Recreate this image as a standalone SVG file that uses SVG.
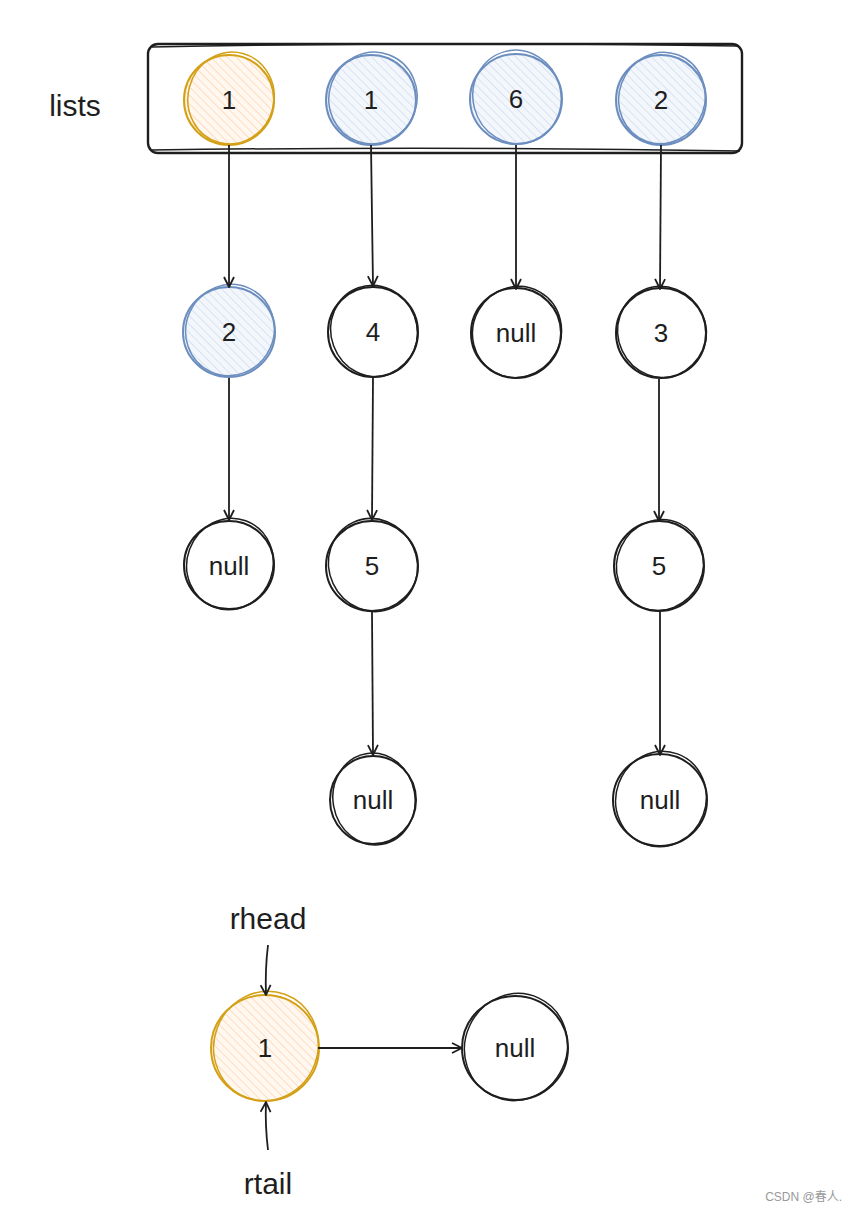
<svg xmlns="http://www.w3.org/2000/svg" width="850" height="1217" viewBox="0 0 850 1217">
<defs>
<pattern id="hatchO" patternUnits="userSpaceOnUse" width="6" height="6" patternTransform="rotate(-45)">
<rect width="6" height="6" fill="#fff8f0"/>
<line x1="0" y1="0" x2="0" y2="6" stroke="#ffc9a0" stroke-width="1.2"/>
</pattern>
<pattern id="hatchB" patternUnits="userSpaceOnUse" width="6" height="6" patternTransform="rotate(-45)">
<rect width="6" height="6" fill="#f3f7fc"/>
<line x1="0" y1="0" x2="0" y2="6" stroke="#c5d6ee" stroke-width="1.2"/>
</pattern>
<marker id="ah" viewBox="0 0 12 12" refX="11" refY="6" markerWidth="12" markerHeight="12" markerUnits="userSpaceOnUse" orient="auto">
<path d="M1,1 L11,6 L1,11" fill="none" stroke="#1e1e1e" stroke-width="1.8" stroke-linejoin="round"/>
</marker>
</defs>
<style>
.lbl{font-family:"Liberation Sans","DejaVu Sans",sans-serif;font-size:26px;fill:#1e1e1e;text-anchor:middle;dominant-baseline:central}
.big{font-size:30px}
.o{fill:url(#hatchO);stroke:#d4a017;stroke-width:2}
.o2{fill:none;stroke:#d4a017;stroke-width:1.5}
.b{fill:url(#hatchB);stroke:#6c8ebf;stroke-width:2}
.b2{fill:none;stroke:#6c8ebf;stroke-width:1.5}
.k{fill:#fff;stroke:#1e1e1e;stroke-width:2}
.k2{fill:none;stroke:#1e1e1e;stroke-width:1.5}
.c{fill:none;stroke:#1e1e1e;stroke-width:1.8}
</style>
<rect width="850" height="1217" fill="#fff"/>
<g id="lists-box">
<rect x="148" y="44" width="594" height="109" rx="10" fill="none" stroke="#1e1e1e" stroke-width="2.4"/>
<path d="M152,47 Q450,41 738,46" class="k2"/>
<path d="M151,150 Q450,146 740,151" class="k2"/>
</g>
<text id="lists-label" class="lbl big" x="75" y="105">lists</text>
<g id="n-top1">
<ellipse cx="229" cy="100" rx="45" ry="45" class="o"/>
<ellipse cx="231" cy="98" rx="43" ry="46" class="o2" transform="rotate(15 231 98)"/>
<text class="lbl" x="229" y="100">1</text>
</g>
<g id="n-top2">
<ellipse cx="371" cy="100" rx="45" ry="45" class="b"/>
<ellipse cx="373" cy="98" rx="44" ry="46" class="b2" transform="rotate(20 373 98)"/>
<text class="lbl" x="371" y="100">1</text>
</g>
<g id="n-top3">
<ellipse cx="516" cy="99" rx="46" ry="45" class="b"/>
<ellipse cx="517" cy="97" rx="44" ry="47" class="b2" transform="rotate(-15 517 97)"/>
<text class="lbl" x="516" y="99">6</text>
</g>
<g id="n-top4">
<ellipse cx="661" cy="100" rx="45" ry="45" class="b"/>
<ellipse cx="662" cy="98" rx="43" ry="46" class="b2" transform="rotate(20 662 98)"/>
<text class="lbl" x="661" y="100">2</text>
</g>
<g id="n-2">
<ellipse cx="229" cy="332" rx="46" ry="45" class="b"/>
<ellipse cx="230" cy="330" rx="44" ry="46" class="b2" transform="rotate(25 230 330)"/>
<text class="lbl" x="229" y="332">2</text>
</g>
<g id="n-4">
<ellipse cx="373" cy="332" rx="45" ry="45" class="k"/>
<ellipse cx="374" cy="331" rx="43" ry="46" class="k2" transform="rotate(-20 374 331)"/>
<text class="lbl" x="373" y="332">4</text>
</g>
<g id="n-null-a">
<ellipse cx="516" cy="333" rx="45" ry="45" class="k"/>
<ellipse cx="517" cy="332" rx="44" ry="46" class="k2" transform="rotate(30 517 332)"/>
<text class="lbl" x="516" y="333">null</text>
</g>
<g id="n-3">
<ellipse cx="661" cy="333" rx="45" ry="45" class="k"/>
<ellipse cx="662" cy="332" rx="44" ry="46" class="k2" transform="rotate(-25 662 332)"/>
<text class="lbl" x="661" y="333">3</text>
</g>
<g id="n-null-b">
<ellipse cx="229" cy="565" rx="45" ry="44" class="k"/>
<ellipse cx="230" cy="564" rx="43" ry="46" class="k2" transform="rotate(20 230 564)"/>
<text class="lbl" x="229" y="566">null</text>
</g>
<g id="n-5a">
<ellipse cx="372" cy="566" rx="46" ry="45" class="k"/>
<ellipse cx="373" cy="565" rx="44" ry="47" class="k2" transform="rotate(-25 373 565)"/>
<text class="lbl" x="372" y="566">5</text>
</g>
<g id="n-5b">
<ellipse cx="659" cy="566" rx="45" ry="45" class="k"/>
<ellipse cx="660" cy="565" rx="43" ry="46" class="k2" transform="rotate(25 660 565)"/>
<text class="lbl" x="659" y="566">5</text>
</g>
<g id="n-null-c">
<ellipse cx="373" cy="800" rx="43" ry="44" class="k"/>
<ellipse cx="374" cy="799" rx="41" ry="46" class="k2" transform="rotate(-10 374 799)"/>
<text class="lbl" x="373" y="800">null</text>
</g>
<g id="n-null-d">
<ellipse cx="660" cy="800" rx="47" ry="46" class="k"/>
<ellipse cx="661" cy="799" rx="45" ry="48" class="k2" transform="rotate(20 661 799)"/>
<text class="lbl" x="660" y="800">null</text>
</g>
<g id="n-rhead">
<ellipse cx="265" cy="1048" rx="54" ry="53" class="o"/>
<ellipse cx="266" cy="1046" rx="52" ry="55" class="o2" transform="rotate(20 266 1046)"/>
<text class="lbl" x="265" y="1048">1</text>
</g>
<g id="n-null-e">
<ellipse cx="515" cy="1048" rx="53" ry="52" class="k"/>
<ellipse cx="516" cy="1047" rx="51" ry="54" class="k2" transform="rotate(25 516 1047)"/>
<text class="lbl" x="515" y="1048">null</text>
</g>
<text id="rhead-label" class="lbl big" x="268" y="918">rhead</text>
<text id="rtail-label" class="lbl big" x="268" y="1183">rtail</text>
<g id="connectors">
<path class="c" d="M229,145 L229,287" marker-end="url(#ah)"/>
<path class="c" d="M371,145 L373,286" marker-end="url(#ah)"/>
<path class="c" d="M516,145 L516,289" marker-end="url(#ah)"/>
<path class="c" d="M661,145 L660,289" marker-end="url(#ah)"/>
<path class="c" d="M229,378 L229,520" marker-end="url(#ah)"/>
<path class="c" d="M373,378 L372,520" marker-end="url(#ah)"/>
<path class="c" d="M659,379 L659,521" marker-end="url(#ah)"/>
<path class="c" d="M372,612 L373,755" marker-end="url(#ah)"/>
<path class="c" d="M660,612 L660,755" marker-end="url(#ah)"/>
<path class="c" d="M268,945 Q265,970 266,995" marker-end="url(#ah)"/>
<path class="c" d="M268,1150 Q265,1125 266,1102" marker-end="url(#ah)"/>
<path class="c" d="M318,1048 L462,1048" marker-end="url(#ah)"/>
</g>
<text id="watermark" x="842" y="1201" font-family="Liberation Sans, Noto Sans CJK SC, sans-serif" font-size="12" fill="#999" text-anchor="end">CSDN @春人.</text>
</svg>
